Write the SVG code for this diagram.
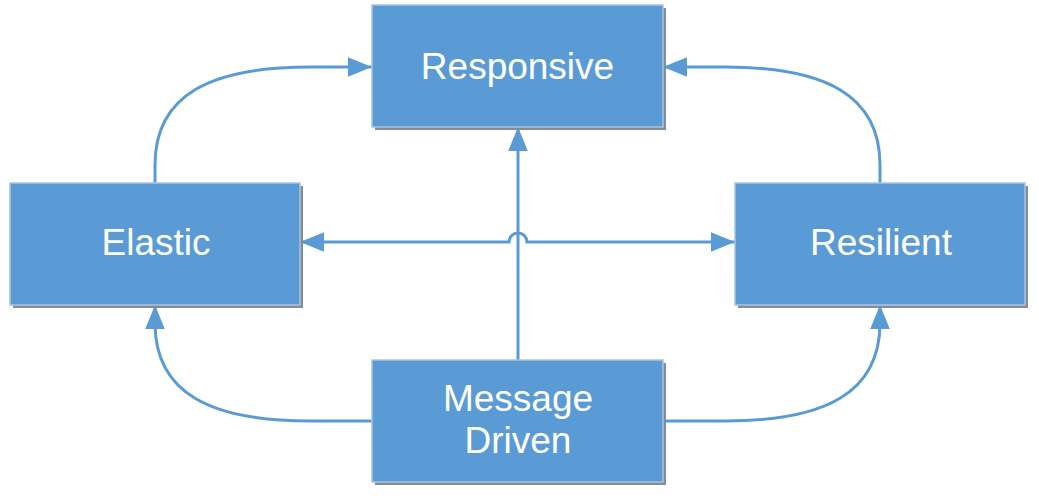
<svg xmlns="http://www.w3.org/2000/svg" width="1039" height="499" viewBox="0 0 1039 499">
<style>
.box{fill:#5B9BD5;stroke:#A9C3E2;stroke-width:1.5}
.shadow{fill:#868C94}
.lbl{font-family:"Liberation Sans",Arial,sans-serif;font-size:37px;fill:#FFFFFF;text-anchor:middle}
.conn{fill:none;stroke:#5B9BD5;stroke-width:3}
</style>
<defs>
<marker id="arr" markerUnits="userSpaceOnUse" markerWidth="24" markerHeight="20" viewBox="0 0 22 18" refX="22" refY="9" orient="auto-start-reverse">
<path d="M0,0 L22,9 L0,18 Z" fill="#5B9BD5"/>
</marker>
</defs>
<rect width="1039" height="499" fill="#FFFFFF"/>
<g id="connectors">
<path class="conn" d="M155,183 V165 C155,95 210,67 310,67 H372" marker-end="url(#arr)"/>
<path class="conn" d="M880,183 V165 C880,95 825,67 725,67 H663" marker-end="url(#arr)"/>
<path class="conn" d="M372,421 H310 C210,421 155,393 155,323 V305" marker-end="url(#arr)"/>
<path class="conn" d="M663,421 H725 C825,421 880,393 880,323 V305" marker-end="url(#arr)"/>
<path class="conn" d="M518,360 V127" marker-end="url(#arr)"/>
<path class="conn" d="M300,242 H509 A9,9 0 0 1 527,242 H735" marker-start="url(#arr)" marker-end="url(#arr)"/>
</g>
<g id="node-responsive">
<rect class="shadow" x="375" y="8" width="291" height="122"/>
<rect class="box" x="372" y="5" width="291" height="122"/>
<text class="lbl" x="517.5" y="79">Responsive</text>
</g>
<g id="node-elastic">
<rect class="shadow" x="13" y="186" width="290" height="122"/>
<rect class="box" x="10" y="183" width="290" height="122"/>
<text class="lbl" x="156" y="255">Elastic</text>
</g>
<g id="node-resilient">
<rect class="shadow" x="738" y="186" width="290" height="122"/>
<rect class="box" x="735" y="183" width="290" height="122"/>
<text class="lbl" x="881" y="255">Resilient</text>
</g>
<g id="node-message-driven">
<rect class="shadow" x="375" y="363" width="291" height="122"/>
<rect class="box" x="372" y="360" width="291" height="122"/>
<text class="lbl" x="518" y="411">Message</text>
<text class="lbl" x="518" y="453">Driven</text>
</g>
</svg>
